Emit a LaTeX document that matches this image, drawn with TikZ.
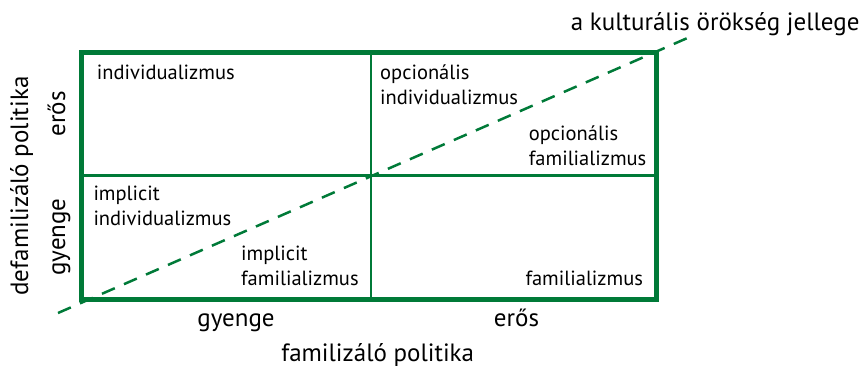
\documentclass[tikz,border=0pt]{standalone}
\usepackage{fontspec}
\setmainfont{PT Sans}
\definecolor{grn}{RGB}{0,122,56}
\begin{document}
\begin{tikzpicture}[x=1pt,y=-1pt,
  celltxt/.style={anchor=base west,inner sep=0pt,align=left,font=\fontsize{20.5}{25}\selectfont},
  bigtxt/.style={inner sep=0pt,font=\fontsize{25}{30}\selectfont},
  thinline/.style={draw=grn,line width=2.5pt},
  thickline/.style={draw=grn,line width=5pt},
  diag/.style={draw=grn,line width=2.5pt,dash pattern=on 14pt off 10pt}]
\useasboundingbox (0,0) rectangle (864,367);
\coordinate (tl) at (81,52);
\coordinate (br) at (656.5,299);
\coordinate (mt) at (371,52);
\coordinate (mb) at (371,299);
\coordinate (ml) at (81,175.5);
\coordinate (mr) at (656.5,175.5);
\coordinate (ds) at (58,313);
\coordinate (de) at (692,36);
\draw[thinline] (mt) -- (mb);
\draw[thinline] (ml) -- (mr);
\draw[thickline] (tl) rectangle (br);
\draw[diag] (ds) -- (de);
\node[celltxt] (c1) at (96.7,79) {individualizmus};
\node[celltxt] (c2) at (380,104) {opcionális\\individualizmus};
\node[celltxt] (c3) at (528.7,165) {opcionális\\familializmus};
\node[celltxt] (c4) at (93.3,225) {implicit\\individualizmus};
\node[celltxt] (c5) at (241,285.5) {implicit\\familializmus};
\node[celltxt] (c6) at (525.3,285.5) {familializmus};
\node[bigtxt,anchor=base east] (kult) at (859.7,30) {a kulturális örökség jellege};
\node[bigtxt,anchor=base] (xg) at (236,326.5) {gyenge};
\node[bigtxt,anchor=base] (xe) at (516.5,326) {erős};
\node[bigtxt,anchor=base] (xt) at (377.7,361) {familizáló politika};
\node[bigtxt,anchor=base,rotate=90] (ye) at (65,114) {erős};
\node[bigtxt,anchor=base,rotate=90] (yg) at (65,237) {gyenge};
\node[bigtxt,anchor=base,rotate=90] (yt) at (28,186) {defamilizáló politika};
\end{tikzpicture}
\end{document}
